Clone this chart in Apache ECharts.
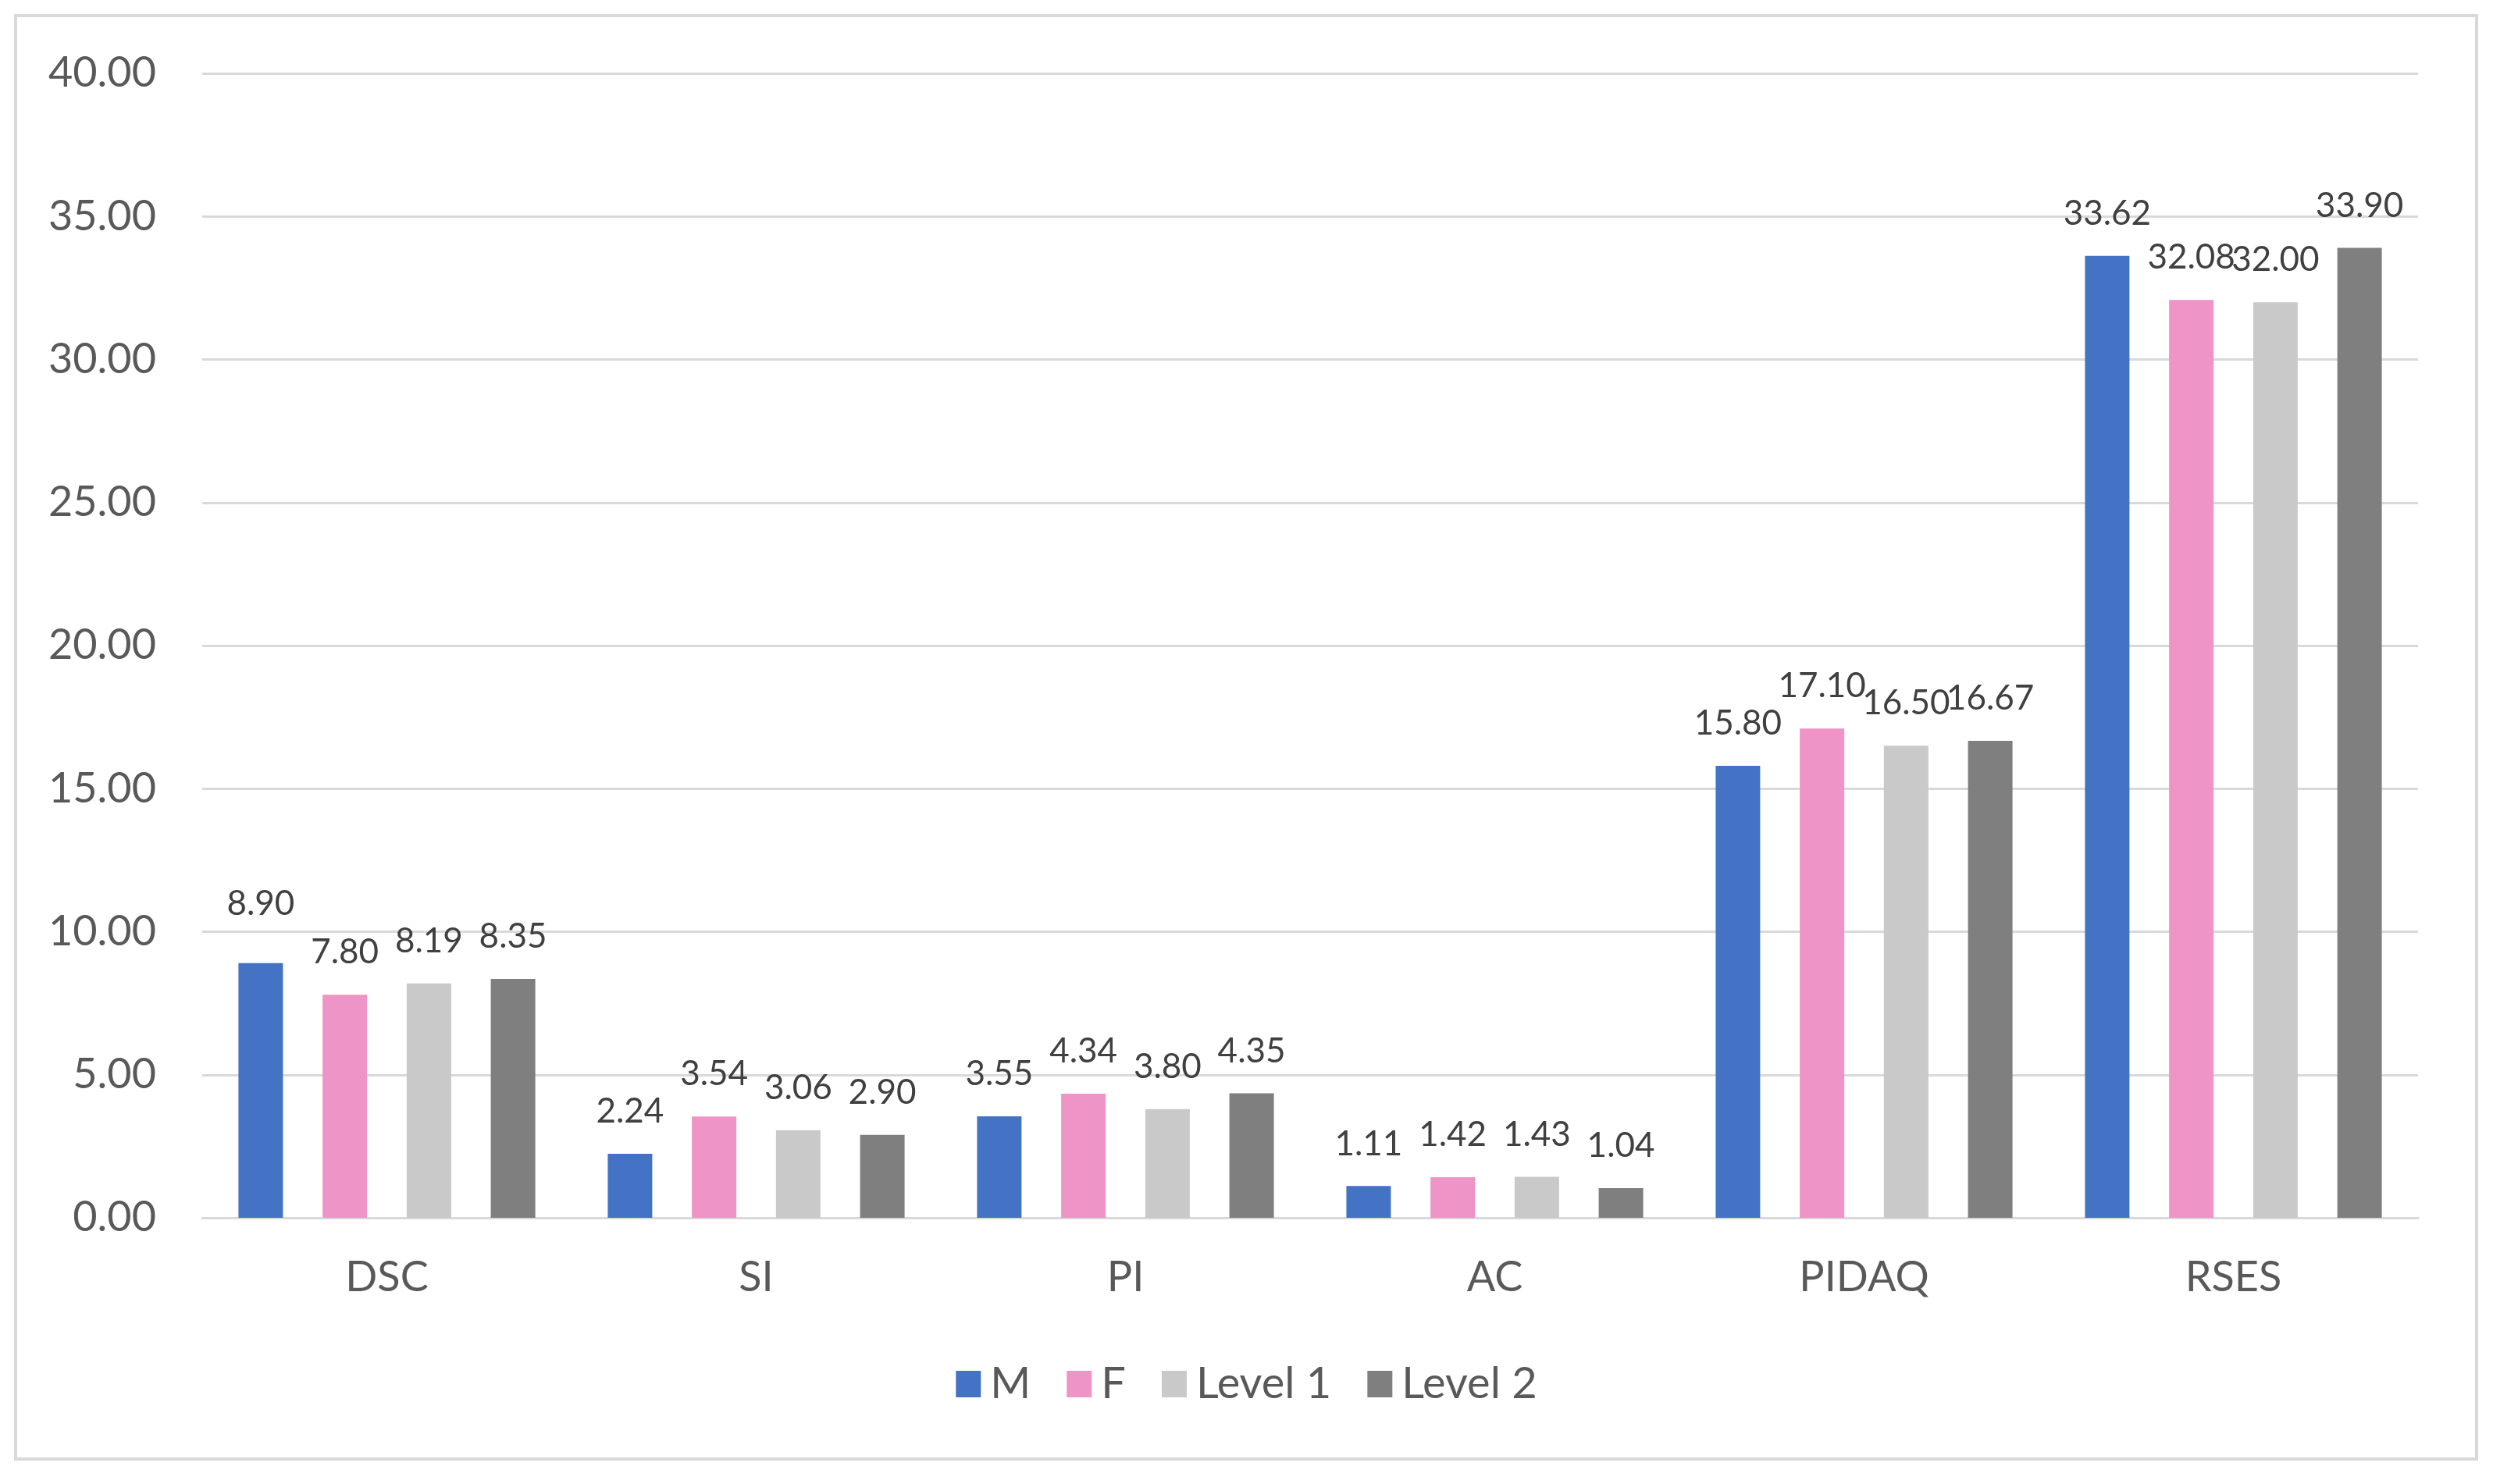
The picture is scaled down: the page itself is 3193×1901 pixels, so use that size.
<!DOCTYPE html>
<html>
<head>
<meta charset="utf-8">
<script src="https://cdn.jsdelivr.net/npm/echarts@6/dist/echarts.min.js"></script>
<style>
html,body{margin:0;padding:0;background:#fff;}
#chart{width:3193px;height:1901px;}
</style>
</head>
<body>
<div id="chart"></div>
<script>
const categories = ['DSC', 'SI', 'PI', 'AC', 'PIDAQ', 'RSES'];
const seriesNames = ['M', 'F', 'Level 1', 'Level 2'];
const valuesM = [8.90, 2.24, 3.55, 1.11, 15.80, 33.62];
const valuesF = [7.80, 3.54, 4.34, 1.42, 17.10, 32.08];
const valuesLevel1 = [8.19, 3.06, 3.80, 1.43, 16.50, 32.00];
const valuesLevel2 = [8.35, 2.90, 4.35, 1.04, 16.67, 33.90];
const yTicks = [0, 5, 10, 15, 20, 25, 30, 35, 40];

const colors = ['#4472C4', '#EE94C6', '#C9C9C9', '#7F7F7F'];
const allValues = [valuesM, valuesF, valuesLevel1, valuesLevel2];
const fontFamily = 'Lato, "Open Sans", sans-serif';

const chart = echarts.init(document.getElementById('chart'), null, {renderer: 'canvas'});

const series = seriesNames.map((name, si) => ({
  name: name,
  type: 'bar',
  barWidth: 57,
  barGap: '89%',
  itemStyle: {color: colors[si]},
  label: {
    show: true,
    position: 'top',
    distance: 32,
    color: '#404040',
    fontSize: 44,
    fontFamily: fontFamily,
    formatter: p => p.value.toFixed(2)
  },
  data: allValues[si].map((v, ci) => {
    if (si === 0 && ci === 0) {
      return {value: v, label: {distance: 54}};
    }
    return v;
  })
}));

chart.setOption({
  animation: false,
  backgroundColor: '#ffffff',
  color: colors,
  graphic: [{
    type: 'rect',
    shape: {x: 20, y: 20, width: 3152, height: 1849},
    style: {fill: 'none', stroke: '#D9D9D9', lineWidth: 4}
  }],
  grid: {left: 259, right: 96, top: 94, bottom: 341, containLabel: false},
  legend: {
    data: seriesNames,
    left: 'center',
    top: 1740,
    itemWidth: 32,
    itemHeight: 34,
    itemGap: 46,
    icon: 'rect',
    textStyle: {fontSize: 56, color: '#595959', fontFamily: fontFamily, padding: [0, 0, 0, 7]}
  },
  xAxis: {
    type: 'category',
    data: categories,
    axisLine: {show: true, lineStyle: {color: '#D9D9D9', width: 3}},
    axisTick: {show: false},
    axisLabel: {fontSize: 54, color: '#595959', fontFamily: fontFamily, margin: 50}
  },
  yAxis: {
    type: 'value',
    min: yTicks[0],
    max: yTicks[yTicks.length - 1],
    interval: 5,
    axisLine: {show: false},
    axisTick: {show: false},
    splitLine: {lineStyle: {color: '#D9D9D9', width: 3}},
    axisLabel: {
      fontSize: 54, color: '#595959', fontFamily: fontFamily, margin: 59,
      formatter: v => v.toFixed(2)
    }
  },
  series: series
});
</script>
</body>
</html>
